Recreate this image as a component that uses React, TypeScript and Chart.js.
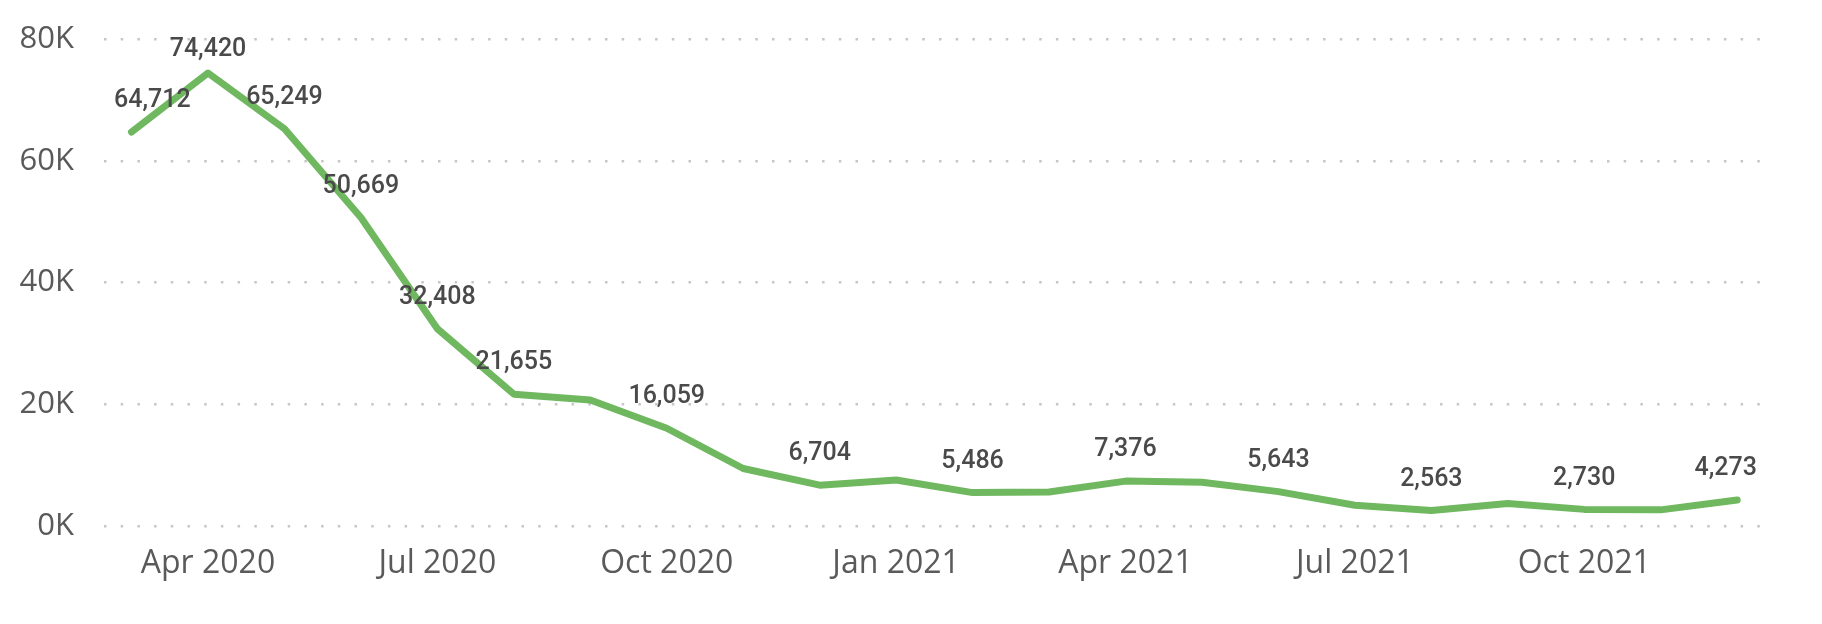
import React, { useEffect, useRef } from "react";
import { Chart, registerables } from "chart.js";

Chart.register(...registerables);

const months = [
  "Mar 2020", "Apr 2020", "May 2020", "Jun 2020", "Jul 2020", "Aug 2020",
  "Sep 2020", "Oct 2020", "Nov 2020", "Dec 2020", "Jan 2021", "Feb 2021",
  "Mar 2021", "Apr 2021", "May 2021", "Jun 2021", "Jul 2021", "Aug 2021",
  "Sep 2021", "Oct 2021", "Nov 2021", "Dec 2021",
];

const values = [
  64712, 74420, 65249, 50669, 32408, 21655,
  20700, 16059, 9450, 6704, 7550, 5486,
  5600, 7376, 7200, 5643, 3400, 2563,
  3700, 2730, 2650, 4273,
];

const labeledMonths = [
  "Mar 2020", "Apr 2020", "May 2020", "Jun 2020", "Jul 2020", "Aug 2020",
  "Oct 2020", "Dec 2020", "Feb 2021", "Apr 2021", "Jun 2021", "Aug 2021",
  "Oct 2021", "Dec 2021",
];

const tickLabels = ["Apr 2020", "Jul 2020", "Oct 2020", "Jan 2021", "Apr 2021", "Jul 2021", "Oct 2021"];

const yTicks = [0, 20000, 40000, 60000, 80000];

const pointLabelPlugin = {
  id: "pointLabels",
  afterDatasetsDraw(chart: any) {
    const { ctx, chartArea } = chart;
    const meta = chart.getDatasetMeta(0);
    ctx.save();
    ctx.font = "500 25px Roboto";
    ctx.fillStyle = "#4a4a4a";
    ctx.textAlign = "center";
    ctx.textBaseline = "middle";
    labeledMonths.forEach((m) => {
      const i = months.indexOf(m);
      const pt = meta.data[i];
      if (!pt) return;
      const text = values[i].toLocaleString("en-US");
      const w = ctx.measureText(text).width;
      let x = pt.x;
      x = Math.max(chartArea.left + 10 + w / 2, Math.min(chartArea.right - 10 - w / 2, x));
      let y = pt.y - 31;
      y = Math.max(chartArea.top + 11, y);
      ctx.fillText(text, x, y);
    });
    ctx.restore();
  },
};

export default function App() {
  const ref = useRef<HTMLCanvasElement | null>(null);

  useEffect(() => {
    document.body.style.margin = "0";
    const canvas = ref.current;
    if (!canvas) return;
    const chart = new Chart(canvas, {
      type: "line",
      data: {
        datasets: [
          {
            data: values.map((v, i) => ({ x: i, y: v })),
            borderColor: "#6FB85F",
            borderWidth: 7,
            borderCapStyle: "round",
            borderJoinStyle: "round",
            pointRadius: 0,
            tension: 0,
            fill: false,
          },
        ],
      },
      options: {
        animation: false,
        responsive: false,
        devicePixelRatio: 1,
        layout: { padding: { top: 39, right: 55, left: 0, bottom: 0 } },
        plugins: {
          legend: { display: false },
          tooltip: { enabled: false },
        },
        scales: {
          x: {
            type: "linear",
            min: -0.36,
            max: 21.39,
            grid: { display: false },
            border: { display: false },
            afterBuildTicks: (scale: any) => {
              scale.ticks = tickLabels.map((t) => ({ value: months.indexOf(t) }));
            },
            afterFit: (scale: any) => {
              scale.height = 98;
              scale.paddingLeft = 0;
              scale.paddingRight = 0;
            },
            ticks: {
              autoSkip: false,
              maxRotation: 0,
              padding: 11,
              color: "#5a5a5a",
              font: { family: "'Open Sans'", size: 32 },
              callback: (v: any) => months[Number(v)] ?? "",
            },
          },
          y: {
            min: 0,
            max: 80000,
            afterBuildTicks: (scale: any) => {
              scale.ticks = yTicks.map((v) => ({ value: v }));
            },
            afterFit: (scale: any) => {
              scale.width = 104;
              scale.paddingTop = 0;
              scale.paddingBottom = 0;
            },
            border: { display: false, dash: [2.5, 14.2] },
            grid: {
              drawTicks: false,
              color: "#c8c6c4",
              lineWidth: 2.5,
            },
            ticks: {
              padding: 30,
              color: "#5a5a5a",
              font: { family: "'Open Sans'", size: 31 },
              callback: (v: any) => `${Number(v) / 1000}K`,
            },
          },
        },
      },
      plugins: [pointLabelPlugin],
    } as any);
    return () => chart.destroy();
  }, []);

  return (
    <div style={{ width: 1822, height: 624, background: "#fff" }}>
      <canvas ref={ref} width={1822} height={624} />
    </div>
  );
}
